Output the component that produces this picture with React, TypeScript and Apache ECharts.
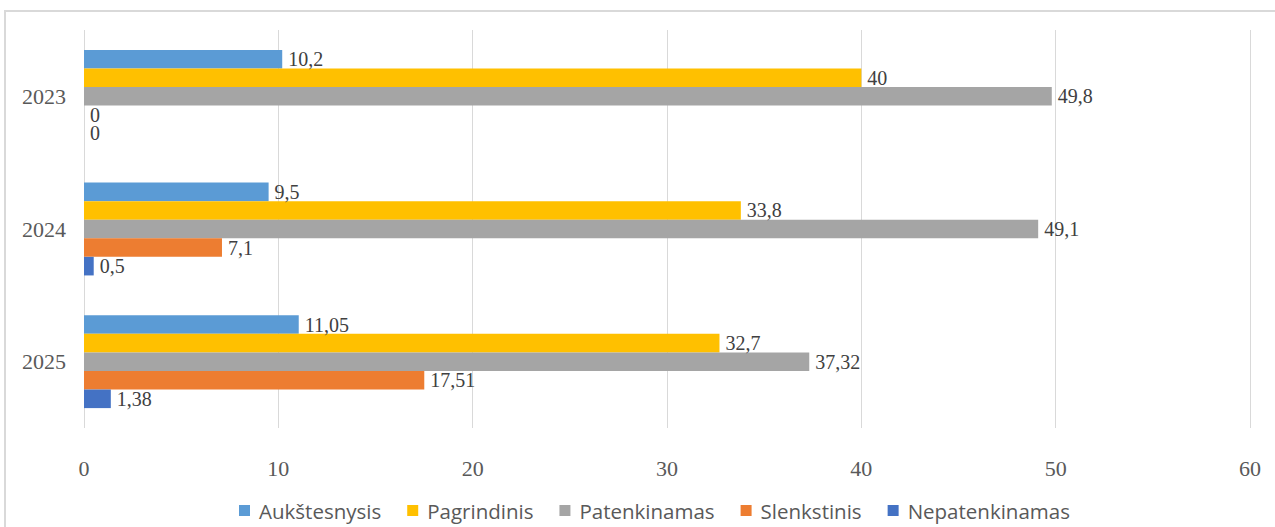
import React, { useEffect, useRef } from "react";
import * as echarts from "echarts";

const categories = ["2023", "2024", "2025"];
const seriesNames = ["Aukštesnysis", "Pagrindinis", "Patenkinamas", "Slenkstinis", "Nepatenkinamas"];
const aukstesnysis = [10.2, 9.5, 11.05];
const pagrindinis = [40, 33.8, 32.7];
const patenkinamas = [49.8, 49.1, 37.32];
const slenkstinis = [0, 7.1, 17.51];
const nepatenkinamas = [0, 0.5, 1.38];
const colors = ["#5B9BD5", "#FFC000", "#A5A5A5", "#ED7D31", "#4472C4"];
const xTicks = [0, 10, 20, 30, 40, 50, 60];

export default function App() {
  const ref = useRef<HTMLDivElement>(null);
  useEffect(() => {
    if (!ref.current) return;
    const chart = echarts.init(ref.current, null, { renderer: "svg" });
    const values = [aukstesnysis, pagrindinis, patenkinamas, slenkstinis, nepatenkinamas];
    chart.setOption({
      animation: false,
      backgroundColor: "#ffffff",
      graphic: [
        {
          type: "rect",
          shape: { x: 5, y: 11, width: 1300, height: 600 },
          style: { fill: "none", stroke: "#D9D9D9", lineWidth: 2 },
          silent: true,
        },
      ],
      grid: { left: 84, right: 25, top: 30, bottom: 99, containLabel: false },
      legend: {
        left: 234,
        top: 495,
        itemWidth: 11,
        itemHeight: 11,
        itemGap: 26,
        icon: "rect",
        textStyle: {
          fontFamily: "Open Sans",
          fontSize: 20.5,
          color: "#595959",
          padding: [0, 0, 0, 4],
        },
        data: seriesNames,
      },
      xAxis: {
        type: "value",
        min: xTicks[0],
        max: xTicks[xTicks.length - 1],
        interval: 10,
        axisLine: { show: false },
        axisTick: { show: false },
        splitLine: { show: true, lineStyle: { color: "#D9D9D9", width: 1 } },
        axisLabel: {
          margin: 29,
          fontFamily: "Liberation Serif",
          fontSize: 22,
          color: "#595959",
        },
      },
      yAxis: {
        type: "category",
        data: categories,
        inverse: true,
        axisLine: { show: false },
        axisTick: { show: false },
        axisLabel: {
          margin: 18,
          fontFamily: "Liberation Serif",
          fontSize: 22,
          color: "#595959",
        },
      },
      series: seriesNames.map((name, i) => ({
        name,
        type: "bar",
        data: values[i],
        barGap: "0%",
        barCategoryGap: "30%",
        itemStyle: { color: colors[i] },
        label: {
          show: true,
          position: "right",
          distance: 6,
          fontFamily: "Liberation Serif",
          fontSize: 20,
          lineHeight: 18,
          color: "#404040",
          formatter: (p: any) => String(p.value).replace(".", ","),
        },
      })),
    });
    return () => chart.dispose();
  }, []);
  return (
    <div
      ref={ref}
      style={{ position: "fixed", left: 0, top: 0, width: 1275, height: 527 }}
    />
  );
}
